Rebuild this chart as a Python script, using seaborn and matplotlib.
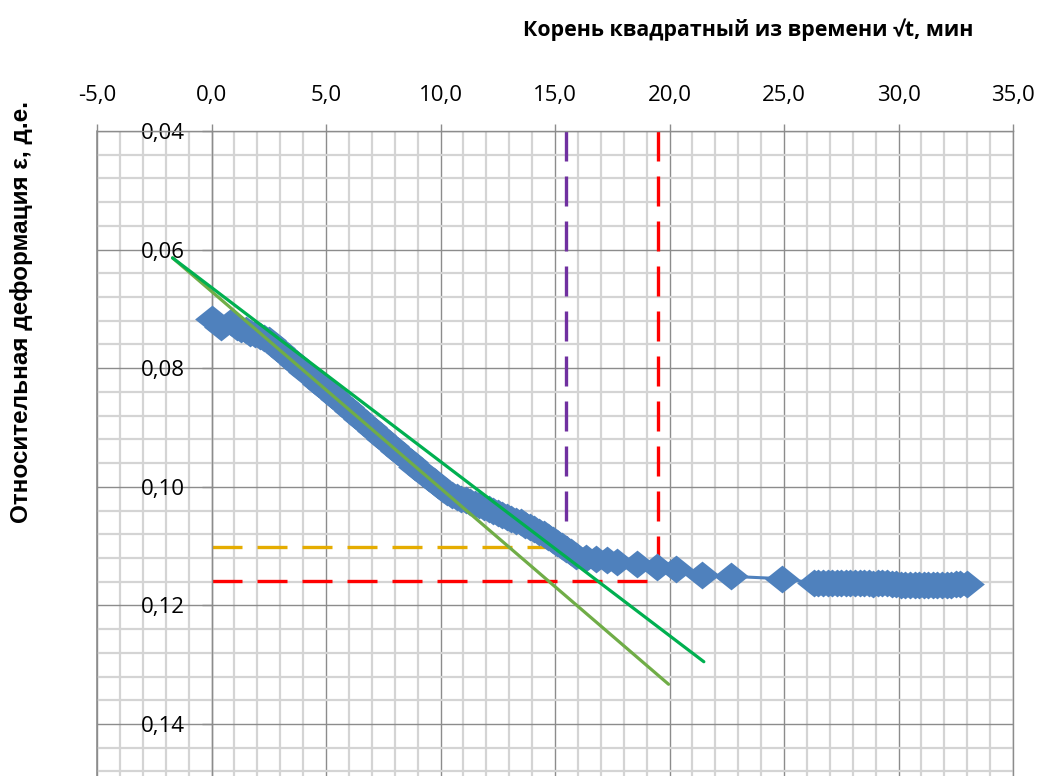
import matplotlib
matplotlib.use("Agg")
import matplotlib.pyplot as plt
from matplotlib.ticker import MultipleLocator, FuncFormatter
import seaborn as sns
import pandas as pd

# measured curve: sqrt(t) [min^0.5] vs relative strain
sqrt_t = [0.0, 0.42, 0.87, 1.1, 1.3, 1.5, 1.7, 1.9, 2.1, 2.3, 2.5, 2.7, 2.9,
          3.1, 3.3, 3.5, 3.7, 3.9, 4.1, 4.3, 4.5, 4.7, 4.9, 5.1, 5.3, 5.5,
          5.7, 5.9, 6.1, 6.3, 6.5, 6.7, 6.9, 7.1, 7.3, 7.5, 7.7, 7.9, 8.1,
          8.3, 8.5, 8.7, 8.9, 9.1, 9.3, 9.5, 9.7, 9.9, 10.1, 10.3, 10.5,
          10.7, 10.9, 11.1, 11.3, 11.5, 11.7, 11.9, 12.1, 12.3, 12.5, 12.7,
          12.9, 13.1, 13.3, 13.5, 13.7, 13.9, 14.1, 14.3, 14.5, 14.7, 14.9,
          15.1, 15.3, 15.5, 15.7, 15.9, 16.35, 16.8, 17.25, 17.7, 18.6,
          19.45, 20.3, 21.4, 22.7, 24.9,
          26.3, 26.5, 26.7, 26.9, 27.1, 27.3, 27.5, 27.7, 27.9, 28.1, 28.3,
          28.5, 28.7, 28.9, 29.1, 29.3, 29.5, 29.7, 29.9, 30.1, 30.3, 30.5,
          30.7, 30.9, 31.1, 31.3, 31.5, 31.7, 31.9, 32.1, 32.3, 32.5, 32.7,
          33.0]
strain = [0.0717, 0.0730, 0.0722, 0.0731, 0.0734, 0.0736, 0.0740, 0.0742,
          0.0746, 0.0749, 0.0753, 0.0759, 0.0766, 0.0773, 0.0780, 0.0786,
          0.0793, 0.0800, 0.0806, 0.0812, 0.0819, 0.0826, 0.0833, 0.0839,
          0.0846, 0.0852, 0.0859, 0.0866, 0.0872, 0.0879, 0.0886, 0.0892,
          0.0899, 0.0906, 0.0912, 0.0919, 0.0926, 0.0932, 0.0939, 0.0946,
          0.0952, 0.0959, 0.0966, 0.0972, 0.0979, 0.0985, 0.0991, 0.0997,
          0.1003, 0.1009, 0.1014, 0.1017, 0.1020, 0.1023, 0.1026, 0.1029,
          0.1031, 0.1034, 0.1037, 0.1041, 0.1044, 0.1048, 0.1051, 0.1054,
          0.1057, 0.1060, 0.1064, 0.1068, 0.1072, 0.1076, 0.1080, 0.1085,
          0.1090, 0.1095, 0.1100, 0.1105, 0.1110, 0.1116, 0.1120, 0.1122,
          0.1124, 0.1127, 0.1130, 0.1135, 0.1139, 0.1148, 0.1151, 0.1155,
          0.1162, 0.1163, 0.1163, 0.1162, 0.1163, 0.1163, 0.1162, 0.1163,
          0.1163, 0.1163, 0.1162, 0.1163, 0.1163, 0.1164, 0.1163, 0.1163,
          0.1163, 0.1164, 0.1164, 0.1165, 0.1165, 0.1165, 0.1165, 0.1165,
          0.1165, 0.1165, 0.1165, 0.1165, 0.1165, 0.1165, 0.1165, 0.1164,
          0.1164, 0.1164]

# tangent lines (start / end points)
tangent1_x = [-1.70, 21.5]
tangent1_y = [0.0614, 0.1295]
tangent2_x = [-1.70, 19.96]
tangent2_y = [0.0614, 0.1333]

# construction lines
sqrt_t90 = 15.46
eps_90 = 0.1101
sqrt_t100 = 19.5
eps_100 = 0.1159

x_ticks = [-5, 0, 5, 10, 15, 20, 25, 30, 35]
y_ticks = [0.04, 0.06, 0.08, 0.10, 0.12, 0.14]

df = pd.DataFrame({"sqrt_t": sqrt_t, "strain": strain})

sns.set_style("white")
plt.rcParams["font.family"] = ["Open Sans", "DejaVu Sans"]
plt.rcParams["text.color"] = "black"
plt.rcParams["xtick.color"] = "black"
plt.rcParams["ytick.color"] = "black"

fig = plt.figure(figsize=(10.4, 7.76), dpi=100)
ax = fig.add_axes([97 / 1040, 0.0, (1013 - 97) / 1040, 1 - 131 / 776])

blue = "#4F81BD"
diamond = [(-1.25, 0), (0, 1), (1.25, 0), (0, -1), (-1.25, 0)]
sns.lineplot(data=df, x="sqrt_t", y="strain", sort=False, ax=ax, color=blue,
             linewidth=2.2, marker=diamond, markersize=25,
             markeredgewidth=0, markerfacecolor=blue, zorder=3)

sns.lineplot(x=tangent2_x, y=tangent2_y, ax=ax, color="#70AD47", linewidth=2.3, zorder=4)
sns.lineplot(x=tangent1_x, y=tangent1_y, ax=ax, color="#00B050", linewidth=2.3, zorder=4)

dash = (9, 4.5)
ax.plot([0, sqrt_t90], [eps_90, eps_90], color="#E5AC00", lw=2.4, dashes=dash, zorder=2)
ax.plot([0, sqrt_t100], [eps_100, eps_100], color="#FF0000", lw=2.4, dashes=dash, zorder=2)
ax.plot([sqrt_t90, sqrt_t90], [0.04, eps_90], color="#7030A0", lw=2.4, dashes=dash, zorder=2)
ax.plot([sqrt_t100, sqrt_t100], [0.04, eps_100], color="#FF0000", lw=2.4, dashes=dash, zorder=2)

ax.set_xlim(-5, 35)
ax.set_ylim(0.04 + 645 / 5930, 0.04)

ax.set_xticks(x_ticks)
ax.set_yticks(y_ticks)
ax.xaxis.set_minor_locator(MultipleLocator(1))
ax.yaxis.set_minor_locator(MultipleLocator(0.004))
ax.xaxis.set_major_formatter(FuncFormatter(lambda v, p: f"{v:.1f}".replace(".", ",")))
ax.yaxis.set_major_formatter(FuncFormatter(lambda v, p: f"{v:.2f}".replace(".", ",")))

ax.grid(which="major", color="#8C8C8C", linewidth=1.0)
ax.grid(which="minor", color="#D4D4D4", linewidth=1.6)
ax.set_axisbelow(True)

ax.xaxis.tick_top()
ax.tick_params(axis="x", which="major", top=True, bottom=False, length=5,
               width=1, color="#8C8C8C", labelcolor="black", pad=13,
               labelsize=16, direction="out")
ax.tick_params(axis="y", which="major", left=True, length=7, width=1,
               color="#8C8C8C", labelcolor="black", pad=12, labelsize=16,
               direction="out")
ax.tick_params(which="minor", length=0)

ax.spines["left"].set_position(("data", 0))
for s in ["left", "top", "right"]:
    ax.spines[s].set_color("#8C8C8C")
    ax.spines[s].set_linewidth(1.0)
ax.spines["bottom"].set_visible(False)
ax.axvline(-5, color="#8C8C8C", linewidth=1.2, clip_on=False, zorder=1)

ax.set_xlabel("")
ax.set_ylabel("")

fig.text(748 / 1040, 1 - 30 / 776, "Корень квадратный из времени √t, мин",
         ha="center", va="center", fontsize=15.4, fontweight="bold",
         color="black")
fig.text(22 / 1040, 1 - 312 / 776, "Относительная деформация ε, д.е.",
         ha="center", va="center", rotation=90, fontsize=17.5,
         fontweight="bold", color="black",
         family=["Liberation Sans", "DejaVu Sans"])

fig.savefig("out.png", dpi=100)
